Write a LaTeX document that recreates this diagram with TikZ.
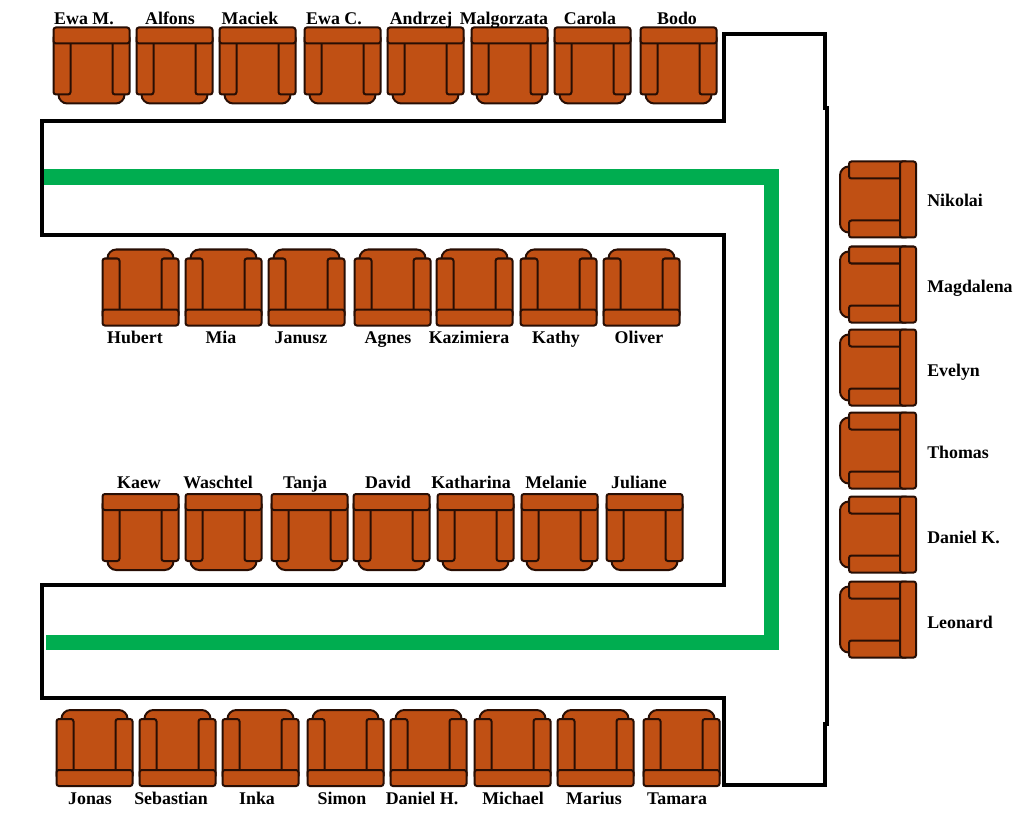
\documentclass[tikz,border=0pt]{standalone}
\usepackage{fontspec}
\setmainfont{Liberation Serif}
\definecolor{chairbrown}{RGB}{192,80,20}
\definecolor{chairline}{RGB}{40,14,4}
\definecolor{aislegreen}{RGB}{0,173,80}
\tikzset{
  chairpart/.style={draw=chairline, fill=chairbrown, line width=0.05cm, rounded corners=0.06cm},
  chair/.pic={
    % seat, then the two arms and the back over it
    \draw[chairpart, rounded corners=0.22cm] (-33,-25) -- (-33,38) -- (33,38) -- (33,-25) -- cycle;
    \draw[chairpart] (-38,-30) rectangle (-21,29);
    \draw[chairpart] (21,-30) rectangle (38,29);
    \draw[chairpart] (-38,-38) rectangle (38,-22);
  },
  seatname/.style={font=\fontsize{12.7}{15}\selectfont\bfseries, text=black, inner sep=0pt, text height=1.6ex, text depth=0.4ex, yshift=-0.05cm}
}
\begin{document}
\begin{tikzpicture}[x=0.025cm, y=-0.025cm]
\useasboundingbox (0,0) rectangle (1024,820);

% Table
\draw[line width=0.1cm, line join=miter] (42,121) -- (724,121) -- (724,34) -- (825,34) -- (825,108) -- (827,108) -- (827,724) -- (825,724) -- (825,785) -- (724,785) -- (724,698) -- (42,698) -- (42,585) -- (724,585) -- (724,235) -- (42,235) -- cycle;

% Green line
\draw[aislegreen, line width=0.375cm, line join=miter] (44,177) -- (771,177) -- (771,642) -- (46,642);

% Top row
\foreach \cx/\lx/\who [count=\n] in {91.5/84/{Ewa M.}, 174.5/170/Alfons, 257.5/250/Maciek, 342.5/334/{Ewa C.}, 425.5/421/Andrzej, 509.5/504/Malgorzata, 592.5/590/Carola, 678.5/677/Bodo}{
  \pic at (\cx,65.5) {chair};
  \node[seatname] (toprow\n) at (\lx,19) {\who};
}

% Second row
\foreach \cx/\lx/\who [count=\n] in {140.5/135/Hubert, 223.5/221/Mia, 306.5/301/Janusz, 392.5/388/Agnes, 474.5/469/Kazimiera, 558.5/556/Kathy, 641.5/639/Oliver}{
  \pic[rotate=180] at (\cx,287.5) {chair};
  \node[seatname] (secondrow\n) at (\lx,338) {\who};
}

% Third row
\foreach \cx/\lx/\who [count=\n] in {140.5/139/Kaew, 223.5/218/Waschtel, 309.5/305/Tanja, 391.5/388/David, 475.5/471/Katharina, 559.5/556/Melanie, 644.5/639/Juliane}{
  \pic at (\cx,532) {chair};
  \node[seatname] (thirdrow\n) at (\lx,483) {\who};
}

% Bottom row
\foreach \cx/\lx/\who [count=\n] in {94.5/90/Jonas, 177.5/171/Sebastian, 260.5/257/Inka, 345.5/342/Simon, 428.5/422/{Daniel H.}, 512.5/513/Michael, 595.5/594/Marius, 681.5/677/Tamara}{
  \pic[rotate=180] at (\cx,748) {chair};
  \node[seatname] (bottomrow\n) at (\lx,799) {\who};
}

% Right side
\foreach \cy/\ly/\who [count=\n] in {199.5/200/Nikolai, 284.5/286/Magdalena, 367.5/370/Evelyn, 450.5/452/Thomas, 534.5/537/{Daniel K.}, 619.5/622/Leonard}{
  \pic[rotate=-90] at (878,\cy) {chair};
  \node[seatname, anchor=west] (rightside\n) at (927,\ly+1) {\who};
}
\end{tikzpicture}
\end{document}
